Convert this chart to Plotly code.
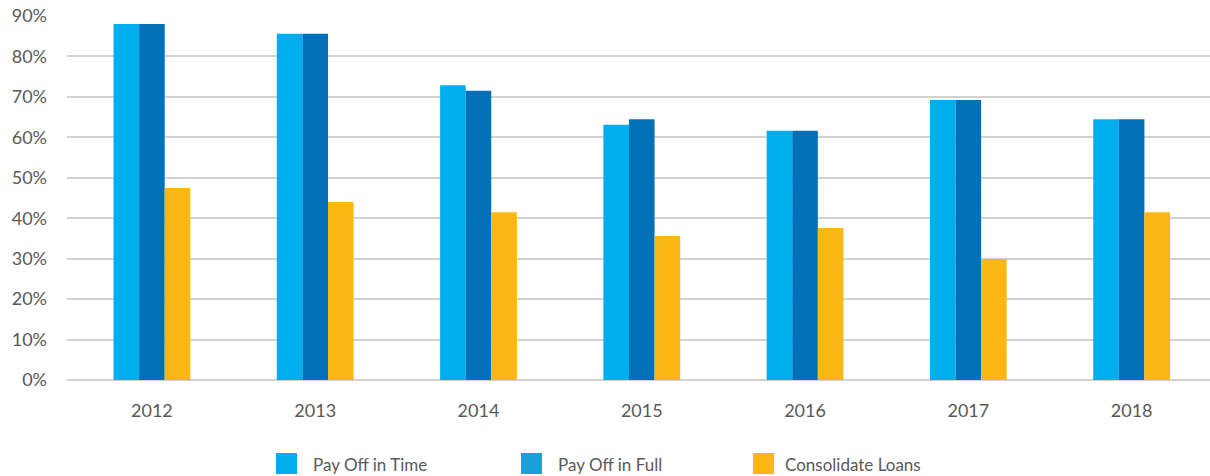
import plotly.graph_objects as go

years = ["2012", "2013", "2014", "2015", "2016", "2017", "2018"]
pay_time = [88.0, 85.6, 72.9, 63.1, 61.6, 69.2, 64.5]
pay_full = [88.0, 85.6, 71.5, 64.5, 61.6, 69.2, 64.5]
consolidate = [47.5, 44.0, 41.5, 35.6, 37.6, 29.9, 41.5]
tick_vals = [0, 10, 20, 30, 40, 50, 60, 70, 80, 90]
tick_text = [f"{v}%" for v in tick_vals]

series_names = ["Pay Off in Time", "Pay Off in Full", "Consolidate Loans"]
bar_colors = ["#00adef", "#0070b9", "#fdb714"]
legend_colors = ["#00adef", "#1b9fd9", "#fdb714"]

FONT = "Lato, 'Open Sans', sans-serif"
TXT = "#595959"

W, H = 1210, 476
L, R, T, B = 67, 0, 16, 96
PW, PH = W - L - R, H - T - B


def px2x(px):
    return (px - L) / PW


def px2y(py):
    return (H - B - py) / PH


fig = go.Figure()
for name, vals, col in zip(series_names, [pay_time, pay_full, consolidate], bar_colors):
    fig.add_trace(go.Bar(x=years, y=vals, name=name, marker_color=col,
                         marker_line_width=0, showlegend=False))

# manual legend (matches reference swatch sizes/colours)
legend_sw_x = [276, 521, 753]
legend_tx_x = [311, 556, 783]
shapes = []
annots = []
for name, col, sx, tx in zip(series_names, legend_colors, legend_sw_x, legend_tx_x):
    shapes.append(dict(type="rect", xref="paper", yref="paper",
                       x0=px2x(sx), x1=px2x(sx + 21), y0=px2y(474), y1=px2y(453),
                       fillcolor=col, line_width=0))
    annots.append(dict(xref="paper", yref="paper", x=px2x(tx), y=px2y(464),
                       xanchor="left", yanchor="middle", showarrow=False, text=name,
                       font=dict(family=FONT, size=17, color=TXT)))

fig.update_layout(
    width=W, height=H,
    margin=dict(l=L, r=R, t=T, b=B, autoexpand=False),
    paper_bgcolor="white", plot_bgcolor="white",
    barmode="group", bargap=0.53, bargroupgap=0,
    font=dict(family=FONT, size=18, color=TXT),
    showlegend=False,
    shapes=shapes, annotations=annots,
)
fig.update_xaxes(showgrid=False, showline=False, ticks="", ticklabelstandoff=18,
                 range=[-0.52, 6.48], automargin=False,
                 tickfont=dict(size=18, color=TXT))
fig.update_yaxes(range=[0, 90], tickvals=tick_vals, ticktext=tick_text,
                 showgrid=True, gridcolor="#d2d2d2", gridwidth=1.5,
                 zeroline=True, zerolinecolor="#d2d2d2", zerolinewidth=1.5,
                 showline=False, ticks="", ticklabelstandoff=19, automargin=False,
                 tickfont=dict(size=18, color=TXT))

fig.write_html("out.html",
               config={"displayModeBar": False},
               post_script="document.body.style.margin='0';document.body.style.overflow='hidden';")
